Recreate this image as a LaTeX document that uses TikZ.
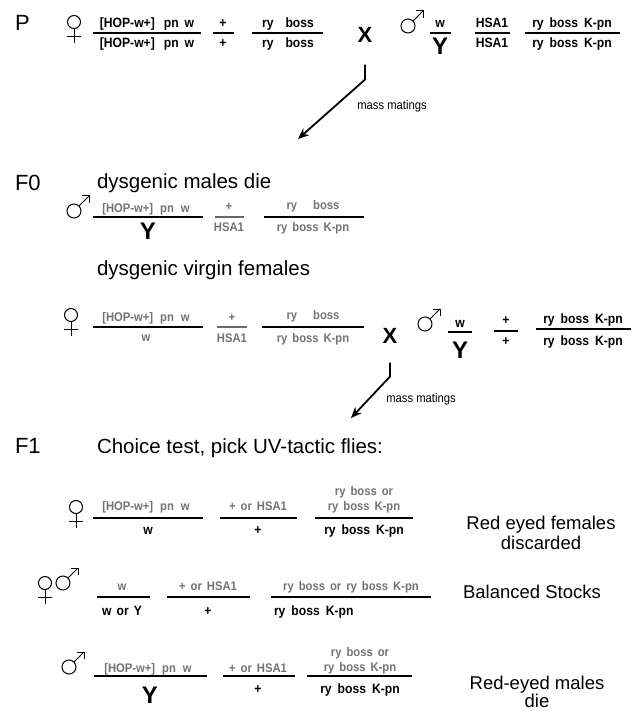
\documentclass[tikz,border=0pt]{standalone}
\usepackage{fontspec}
\setmainfont{Liberation Sans}
\newfontfamily\gb[FakeStretch=0.9]{Liberation Sans}
\usetikzlibrary{arrows.meta}
\tikzset{
  every node/.style={inner sep=0pt, outer sep=0pt},
  lab/.style={anchor=base west, font=\fontsize{22}{22}\selectfont},
  body/.style={anchor=base west, font=\fontsize{20.5}{20.5}\selectfont},
  gs/.style={anchor=base, font=\gb\bfseries\fontsize{13.5}{13.5}\selectfont},
  gg/.style={anchor=base, font=\gb\bfseries\fontsize{12.5}{12.5}\selectfont, text=black!55},
  bigY/.style={anchor=base, font=\bfseries\fontsize{24}{24}\selectfont},
  crossX/.style={font=\bfseries\fontsize{22}{22}\selectfont},
  note/.style={font=\gb\fontsize{12.5}{12.5}\selectfont},
  side/.style={anchor=base, font=\fontsize{18.5}{18.5}\selectfont},
  bar/.style={line width=1.2pt},
  sym/.style={line width=1pt},
  arr/.style={line width=1.8pt, -{Stealth[length=11pt,width=9pt]}},
  fem/.pic={\draw[sym] (0,0) circle (6.5); \draw[sym] (0,6.5) -- (0,21); \draw[sym] (-7,14.5) -- (7,14.5);},
  mal/.pic={\draw[sym] (0,0) circle (7); \draw[sym] (4.95,-4.95) -- (15,-15); \draw[sym] (8,-15) -- (15,-15) -- (15,-8);}
}
\begin{document}
\begin{tikzpicture}[x=1pt,y=-1pt]
\fill[white] (0,0) rectangle (639,711);
\useasboundingbox (0,0) rectangle (639,711);

% ---------------- P row
\node[lab] (P) at (15,31) {P};
\pic at (74,22) {fem};
\node[gs] (pAn) at (147,28) {[HOP-w+]\hspace{9pt}pn\hspace{6pt}w};
\draw[bar] (93,33) -- (201,33);
\node[gs] (pAd) at (147,48) {[HOP-w+]\hspace{9pt}pn\hspace{6pt}w};
\node[gs] (pBn) at (223,28) {+};
\draw[bar] (213,33) -- (234,33);
\node[gs] (pBd) at (223,48) {+};
\node[gs] (pCn) at (288,28) {ry\hspace{12pt}boss};
\draw[bar] (252,33) -- (323,33);
\node[gs] (pCd) at (288,48) {ry\hspace{12pt}boss};
\node[crossX] (pX) at (365,35) {X};
\pic at (408,26) {mal};
\node[gs] (pDn) at (440,28) {w};
\draw[bar] (430,33) -- (451,33);
\node[bigY] (pDd) at (440,55) {Y};
\node[gs] (pEn) at (492,28) {HSA1};
\draw[bar] (475,33) -- (510,33);
\node[gs] (pEd) at (492,48) {HSA1};
\node[gs] (pFn) at (572,28) {ry\hspace{6pt}boss\hspace{6pt}K-pn};
\draw[bar] (525,33) -- (620,33);
\node[gs] (pFd) at (572,48) {ry\hspace{6pt}boss\hspace{6pt}K-pn};

\coordinate (t1) at (298,139);
\draw[arr] ([yshift=-22pt]pX.south) -- ++(0,15) -- (t1);
\node[note] (m1) at (392,106) {mass matings};

% ---------------- F0
\node[lab] (F0) at (15,191) {F0};
\node[body] (d1) at (97,189) {dysgenic males die};

\pic at (74,211) {mal};
\node[gg] (aAn) at (146,212) {[HOP-w+]\hspace{7pt}pn\hspace{7pt}w};
\draw[bar] (93,217) -- (203,217);
\node[bigY] (aAd) at (148,240) {Y};
\node[gg] (aBn) at (229,211) {+};
\draw[bar, black!60] (215,217) -- (244,217);
\node[gg] (aBd) at (229,231) {HSA1};
\node[gg] (aCn) at (313,210) {ry\hspace{16pt}boss};
\draw[bar] (264,217) -- (364,217);
\node[gg] (aCd) at (313,231) {ry\hspace{5pt}boss\hspace{5pt}K-pn};

\node[body] (d2) at (97,275) {dysgenic virgin females};

\pic at (71,315) {fem};
\node[gg] (bAn) at (146,321) {[HOP-w+]\hspace{7pt}pn\hspace{7pt}w};
\draw[bar] (93,327) -- (203,327);
\node[gg] (bAd) at (146,341) {w};
\node[gg] (bBn) at (232,321) {+};
\draw[bar, black!60] (217,327) -- (247,327);
\node[gg] (bBd) at (232,342) {HSA1};
\node[gg] (bCn) at (313,319) {ry\hspace{16pt}boss};
\draw[bar] (262,327) -- (364,327);
\node[gg] (bCd) at (313,342) {ry\hspace{5pt}boss\hspace{5pt}K-pn};
\node[crossX] (bX) at (390,336) {X};
\pic at (425,324) {mal};
\node[gs] (bDn) at (460,327) {w};
\draw[bar] (448,332) -- (472,332);
\node[bigY] (bDd) at (460,358) {Y};
\node[gs] (bEn) at (506,324) {+};
\draw[bar] (494,331) -- (518,331);
\node[gs] (bEd) at (506,345) {+};
\node[gs] (bFn) at (583,323) {ry\hspace{6pt}boss\hspace{6pt}K-pn};
\draw[bar] (536,329) -- (631,329);
\node[gs] (bFd) at (583,345) {ry\hspace{6pt}boss\hspace{6pt}K-pn};

\coordinate (t2) at (351,418);
\draw[arr] ([yshift=-19pt]bX.south) -- ++(0,14) -- (t2);
\node[note] (m2) at (421,399) {mass matings};

% ---------------- F1
\node[lab] (F1) at (15,453) {F1};
\node[body] (d3) at (97,453) {Choice test, pick UV-tactic flies:};

% females
\pic at (76,507) {fem};
\node[gg] (cAn) at (146,510) {[HOP-w+]\hspace{7pt}pn\hspace{7pt}w};
\draw[bar] (93,518) -- (203,518);
\node[gs] (cAd) at (148,534) {w};
\node[gg] (cBn) at (258,510) {+\hspace{5pt}or\hspace{5pt}HSA1};
\draw[bar] (220,518) -- (297,518);
\node[gs] (cBd) at (258,534) {+};
\node[gg] (cCn1) at (364,495) {ry\hspace{5pt}boss\hspace{5pt}or};
\node[gg] (cCn2) at (364,510) {ry\hspace{5pt}boss\hspace{5pt}K-pn};
\draw[bar] (315,518) -- (413,518);
\node[gs] (cCd) at (364,534) {ry\hspace{6pt}boss\hspace{6pt}K-pn};
\node[side] (cR1) at (541,529) {Red eyed females};
\node[side] (cR2) at (541,549) {discarded};

% balanced
\pic at (45,583) {fem};
\pic at (63,583) {mal};
\node[gg] (eAn) at (122,590) {w};
\draw[bar] (97,597) -- (150,597);
\node[gs] (eAd) at (122,615) {w\hspace{5pt}or\hspace{5pt}Y};
\node[gg] (eBn) at (208,590) {+\hspace{5pt}or\hspace{5pt}HSA1};
\draw[bar] (167,597) -- (250,597);
\node[gs] (eBd) at (208,615) {+};
\node[gg] (eCn) at (351,590) {ry\hspace{5pt}boss\hspace{5pt}or\hspace{5pt}ry\hspace{5pt}boss\hspace{5pt}K-pn};
\draw[bar] (271,597) -- (431,597);
\node[gs, anchor=base west] (eCd) at (274,615) {ry\hspace{6pt}boss\hspace{6pt}K-pn};
\node[side] (eR) at (532,598) {Balanced Stocks};

% males
\pic at (69,667) {mal};
\node[gg] (fAn) at (148,672) {[HOP-w+]\hspace{7pt}pn\hspace{7pt}w};
\draw[bar] (94,676) -- (207,676);
\node[bigY] (fAd) at (150,703) {Y};
\node[gg] (fBn) at (258,672) {+\hspace{5pt}or\hspace{5pt}HSA1};
\draw[bar] (223,676) -- (295,676);
\node[gs] (fBd) at (258,693) {+};
\node[gg] (fCn1) at (360,656) {ry\hspace{5pt}boss\hspace{5pt}or};
\node[gg] (fCn2) at (360,671) {ry\hspace{5pt}boss\hspace{5pt}K-pn};
\draw[bar] (307,676) -- (412,676);
\node[gs] (fCd) at (360,693) {ry\hspace{6pt}boss\hspace{6pt}K-pn};
\node[side] (fR1) at (537,689) {Red-eyed males};
\node[side] (fR2) at (537,707) {die};
\end{tikzpicture}
\end{document}
